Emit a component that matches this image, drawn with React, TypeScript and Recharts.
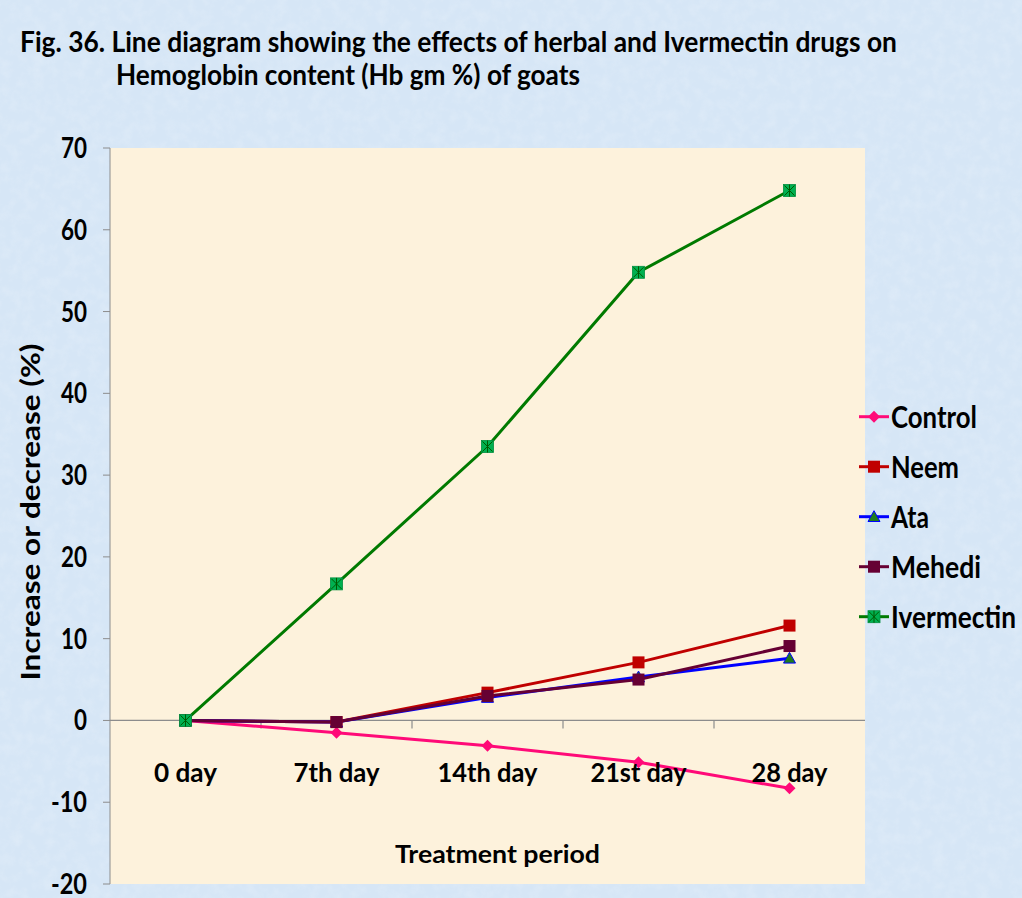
import React from 'react';
import {
  LineChart,
  Line,
  XAxis,
  YAxis,
  ReferenceLine,
  ReferenceArea,
  Label,
} from 'recharts';

document.body.style.margin = '0';

const categories = ['0 day', '7th day', '14th day', '21st day', '28 day'];
const control = [0, -1.5, -3.1, -5.1, -8.3];
const neem = [0, -0.2, 3.4, 7.1, 11.6];
const ata = [0, -0.2, 2.8, 5.3, 7.6];
const mehedi = [0, -0.2, 3.0, 5.0, 9.1];
const ivermectin = [0, 16.7, 33.5, 54.8, 64.8];
const yTicks = [-20, -10, 0, 10, 20, 30, 40, 50, 60, 70];
const boundaries = [1, 2, 3, 4];

// widths of the labels as they appear in the figure (narrow bold face)
const categoryWidths = [63, 86, 100, 96, 76];

const FONT = "Lato, 'DejaVu Sans Condensed', sans-serif";
const AXIS_GREY = '#8c8c8c';

const COLORS = {
  control: '#ff0a78',
  neem: '#c00000',
  ata: '#0000ff',
  ataMarker: '#1e7b1e',
  mehedi: '#660033',
  ivermectin: '#007a00',
  ivermectinMarker: '#00b050',
};

// x sits in the middle of each category band
const data = categories.map((c, i) => ({
  x: i + 0.5,
  label: c,
  control: control[i],
  neem: neem[i],
  ata: ata[i],
  mehedi: mehedi[i],
  ivermectin: ivermectin[i],
}));

const Diamond = ({ cx, cy, color, r = 6 }: any) => (
  <polygon
    points={`${cx},${cy - r} ${cx + r},${cy} ${cx},${cy + r} ${cx - r},${cy}`}
    fill={color}
  />
);

const Square = ({ cx, cy, color, s = 12 }: any) => (
  <rect x={cx - s / 2} y={cy - s / 2} width={s} height={s} fill={color} />
);

const Triangle = ({ cx, cy, r = 6 }: any) => (
  <polygon
    points={`${cx},${cy - r} ${cx + r},${cy + r * 0.8} ${cx - r},${cy + r * 0.8}`}
    fill={COLORS.ataMarker}
    stroke={COLORS.ata}
    strokeWidth={1}
  />
);

const StarSquare = ({ cx, cy, s = 12 }: any) => {
  const h = s / 2;
  return (
    <g>
      <rect x={cx - h} y={cy - h} width={s} height={s} fill={COLORS.ivermectinMarker} stroke="#009040" strokeWidth={0.8} />
      <line x1={cx - h + 1} y1={cy - h + 1} x2={cx + h - 1} y2={cy + h - 1} stroke="#005a00" strokeWidth={1} />
      <line x1={cx + h - 1} y1={cy - h + 1} x2={cx - h + 1} y2={cy + h - 1} stroke="#005a00" strokeWidth={1} />
      <line x1={cx} y1={cy - h} x2={cx} y2={cy + h} stroke="#005a00" strokeWidth={1} />
    </g>
  );
};

const markerFor = (key: string, cx: number, cy: number) => {
  if (key === 'control') return <Diamond cx={cx} cy={cy} color={COLORS.control} />;
  if (key === 'neem') return <Square cx={cx} cy={cy} color={COLORS.neem} />;
  if (key === 'ata') return <Triangle cx={cx} cy={cy} />;
  if (key === 'mehedi') return <Square cx={cx} cy={cy} color={COLORS.mehedi} />;
  return <StarSquare cx={cx} cy={cy} />;
};

const dotFor = (key: string) => (props: any) => (
  <g key={`${key}-${props.index}`}>{markerFor(key, props.cx, props.cy)}</g>
);

const legendItems = [
  { key: 'control', name: 'Control', color: COLORS.control, w: 86 },
  { key: 'neem', name: 'Neem', color: COLORS.neem, w: 68 },
  { key: 'ata', name: 'Ata', color: COLORS.ata, w: 38 },
  { key: 'mehedi', name: 'Mehedi', color: COLORS.mehedi, w: 90 },
  { key: 'ivermectin', name: 'Ivermectin', color: COLORS.ivermectin, w: 125 },
];

const boldText = {
  fontFamily: FONT,
  fontWeight: 'bold' as const,
  fill: '#000',
};

const XTick = ({ x, y, payload }: any) => {
  const i = Math.floor(payload.value);
  return (
    <text
      x={x}
      y={y}
      dy={-110}
      textAnchor="middle"
      fontSize={26}
      textLength={categoryWidths[i]}
      lengthAdjust="spacingAndGlyphs"
      {...boldText}
    >
      {categories[i]}
    </text>
  );
};

const YTick = ({ x, y, payload }: any) => {
  const s = String(payload.value);
  const neg = s.startsWith('-');
  const w = s.replace('-', '').length * 13 + (neg ? 10 : 0);
  return (
    <text
      x={x}
      y={y}
      dy={10}
      textAnchor="end"
      fontSize={28}
      textLength={w}
      lengthAdjust="spacingAndGlyphs"
      {...boldText}
    >
      {s}
    </text>
  );
};

const Texture = ({ id, base, seed }: any) => (
  <filter id={id} x="0" y="0" width="100%" height="100%">
    <feTurbulence type="fractalNoise" baseFrequency="0.09" numOctaves="3" seed={seed} />
    <feColorMatrix type="matrix" values={`0 0 0 0 ${base[0]}  0 0 0 0 ${base[1]}  0 0 0 0 ${base[2]}  0 0 0 -0.9 0.55`} />
  </filter>
);

export default function App() {
  return (
    <div
      style={{
        position: 'relative',
        width: 1022,
        height: 898,
        background: '#d6e6f6',
        overflow: 'hidden',
      }}
    >
      <svg width={1022} height={898} style={{ position: 'absolute', left: 0, top: 0 }}>
        <defs>
          <Texture id="bgTex" base={[1, 1, 1]} seed={3} />
        </defs>
        <rect x={0} y={0} width={1022} height={898} filter="url(#bgTex)" opacity={0.35} />
        <text x={20} y={52} fontSize={28} textLength={877} lengthAdjust="spacingAndGlyphs" {...boldText}>
          Fig. 36. Line diagram showing the effects of herbal and Ivermectin drugs on
        </text>
        <text x={116} y={85} fontSize={28} textLength={464} lengthAdjust="spacingAndGlyphs" {...boldText}>
          Hemoglobin content (Hb gm %) of goats
        </text>
      </svg>
      <LineChart
        width={1022}
        height={898}
        data={data}
        margin={{ top: 148, right: 157, bottom: 0, left: 0 }}
        style={{ position: 'absolute', left: 0, top: 0 }}
      >
        <ReferenceArea x1={0} x2={5} y1={-20} y2={70} fill="#fdf2dc" fillOpacity={1} stroke="none" />
        <XAxis
          dataKey="x"
          type="number"
          domain={[0, 5]}
          ticks={[0.5, 1.5, 2.5, 3.5, 4.5]}
          axisLine={false}
          tickLine={false}
          height={14}
          tick={<XTick />}
          interval={0}
        >
          <Label
            content={() => (
              <text
                x={395}
                y={863}
                fontSize={25}
                textLength={205}
                lengthAdjust="spacingAndGlyphs"
                {...boldText}
              >
                Treatment period
              </text>
            )}
          />
        </XAxis>
        <YAxis
          domain={[-20, 70]}
          ticks={yTicks}
          interval={0}
          width={110}
          stroke={AXIS_GREY}
          tickSize={7}
          tickMargin={16}
          tick={<YTick />}
        >
          <Label
            content={({ viewBox }: any) => {
              const cx = 30;
              const cy = viewBox.y + viewBox.height / 2 - 4;
              return (
                <text
                  x={cx}
                  y={cy}
                  transform={`rotate(-90, ${cx}, ${cy})`}
                  textAnchor="middle"
                  dominantBaseline="central"
                  fontSize={26}
                  textLength={337}
                  lengthAdjust="spacingAndGlyphs"
                  {...boldText}
                >
                  Increase or decrease (%)
                </text>
              );
            }}
          />
        </YAxis>
        <ReferenceLine y={0} stroke={AXIS_GREY} strokeWidth={1.2} />
        {boundaries.map((b) => (
          <ReferenceLine
            key={b}
            segment={[
              { x: b, y: 0 },
              { x: b, y: -1 },
            ]}
            stroke={AXIS_GREY}
            strokeWidth={1.2}
          />
        ))}
        <Line dataKey="control" name="Control" stroke={COLORS.control} strokeWidth={3} dot={dotFor('control')} isAnimationActive={false} />
        <Line dataKey="neem" name="Neem" stroke={COLORS.neem} strokeWidth={3} dot={dotFor('neem')} isAnimationActive={false} />
        <Line dataKey="ata" name="Ata" stroke={COLORS.ata} strokeWidth={3} dot={dotFor('ata')} isAnimationActive={false} />
        <Line dataKey="mehedi" name="Mehedi" stroke={COLORS.mehedi} strokeWidth={3} dot={dotFor('mehedi')} isAnimationActive={false} />
        <Line dataKey="ivermectin" name="Ivermectin" stroke={COLORS.ivermectin} strokeWidth={3} dot={dotFor('ivermectin')} isAnimationActive={false} />
      </LineChart>
      <svg width={167} height={260} style={{ position: 'absolute', left: 855, top: 390 }}>
        {legendItems.map((it, i) => {
          const cy = 26.7 + i * 50;
          return (
            <g key={it.key}>
              <line x1={4} y1={cy} x2={34} y2={cy} stroke={it.color} strokeWidth={3} />
              {markerFor(it.key, 19, cy)}
              <text x={36} y={cy + 11} fontSize={30} textLength={it.w} lengthAdjust="spacingAndGlyphs" {...boldText}>
                {it.name}
              </text>
            </g>
          );
        })}
      </svg>
    </div>
  );
}
